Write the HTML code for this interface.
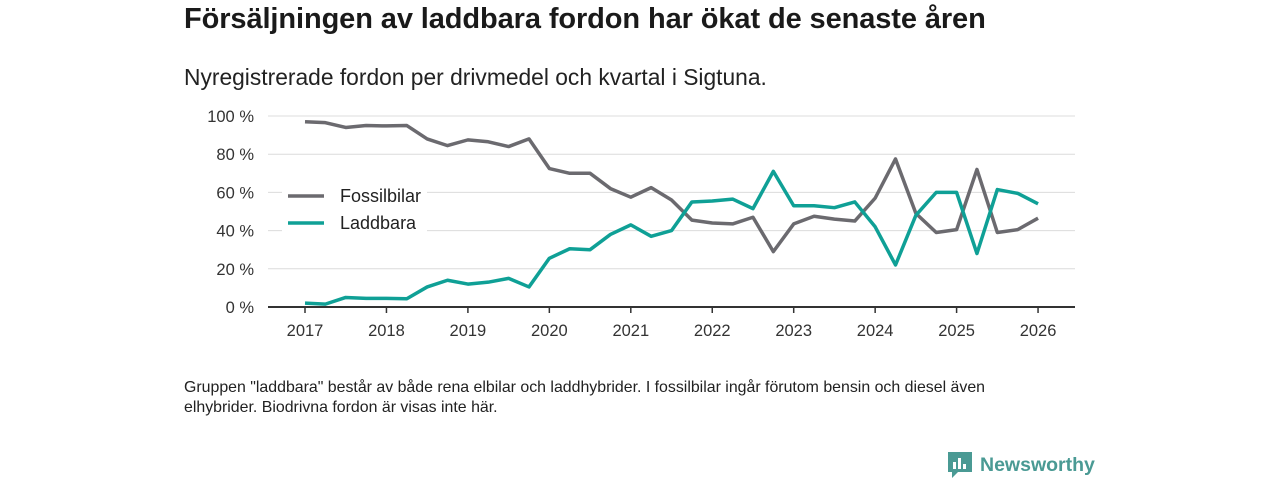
<!DOCTYPE html>
<html><head><meta charset="utf-8"><style>
body{margin:0;width:1280px;height:480px;background:#fff;font-family:"Liberation Sans","DejaVu Sans",sans-serif;color:#222;overflow:hidden;position:relative}
.t{position:absolute;left:184px;top:3px;font-size:29px;font-weight:bold;color:#1a1a1a;letter-spacing:-0.1px}
.s{position:absolute;left:184px;top:64px;font-size:22.8px;color:#222}
.f{position:absolute;left:184px;top:378px;font-size:15.9px;line-height:20px;color:#222;width:860px}
.logo{position:absolute;left:948px;top:452px;display:flex;align-items:center;gap:8px;font-size:19.5px;font-weight:bold;color:#4a9a94}
</style></head><body>
<div class="t">Försäljningen av laddbara fordon har ökat de senaste åren</div>
<div class="s">Nyregistrerade fordon per drivmedel och kvartal i Sigtuna.</div>
<svg id="c" width="1280" height="480" style="position:absolute;left:0;top:0"></svg>
<div class="f">Gruppen "laddbara" består av både rena elbilar och laddhybrider. I fossilbilar ingår förutom bensin och diesel även elhybrider. Biodrivna fordon är visas inte här.</div>
<div class="logo"><svg width="24" height="26" viewBox="0 0 24 26"><path d="M0 0h24v20H10l-6 6v-6H0z" fill="#4a9a94"/><rect x="5" y="10" width="3" height="7" fill="#fff"/><rect x="10" y="6" width="3" height="11" fill="#fff"/><rect x="15" y="12" width="3" height="5" fill="#fff"/></svg><span>Newsworthy</span></div>
<script>
const years=[2017,2018,2019,2020,2021,2022,2023,2024,2025,2026];
const yTicks=[0,20,40,60,80,100];
const fossil=[97,96.5,94,95,94.8,95,88,84.5,87.5,86.5,84,88,72.5,70,70,62,57.5,62.5,56,45.5,44,43.5,47,29,43.5,47.5,46,45,57,77.5,49,39,40.5,72,39,40.5,46.5];
const laddbara=[2,1.5,5,4.5,4.5,4.3,10.5,14,12,13,15,10.5,25.5,30.5,30,38,43,37,40,55,55.5,56.5,51.5,71,53,53,52,55,42,22,48,60,60,28,61.5,59.5,54];
const svg=document.getElementById('c');const NS='http://www.w3.org/2000/svg';
const x=t=>305+(t-2017)*81.45;
const y=v=>307-v*1.91;
function mk(tag,a){const e=document.createElementNS(NS,tag);for(const k in a)e.setAttribute(k,a[k]);svg.appendChild(e);return e;}
yTicks.forEach(v=>{
 if(v>0){const g=mk('line',{x1:268,x2:1075,y1:y(v),y2:y(v),stroke:'#dcdcdc','stroke-width':1});
 
 }
 const t=mk('text',{x:254,y:y(v)+6,'text-anchor':'end','font-size':16.5,fill:'#333','font-family':'Liberation Sans, sans-serif'});
 t.textContent=v+' %';
 
 
});
const ax=mk('line',{x1:268,x2:1075,y1:307,y2:307,stroke:'#333','stroke-width':2});


years.forEach(yr=>{
 const tk=mk('line',{x1:x(yr),x2:x(yr),y1:307,y2:313,stroke:'#333','stroke-width':1.5});
 
 
 const t=mk('text',{x:x(yr),y:336,'text-anchor':'middle','font-size':16.5,fill:'#333','font-family':'Liberation Sans, sans-serif'});
 t.textContent=yr;
 
 
});
function line(d,c,n){const p=d.map((v,i)=>x(2017+i/4)+','+y(v)).join(' ');
 const e=mk('polyline',{points:p,fill:'none',stroke:c,'stroke-width':3.5,'stroke-linejoin':'round'});
 
 }
const lb=mk('rect',{x:282,y:180,width:145,height:60,fill:'#fff'});


line(fossil,'#6b6a6f','fossilbilar-line');
line(laddbara,'#0fa096','laddbara-line');
[['Fossilbilar','#6b6a6f',196],['Laddbara','#0fa096',223]].forEach(([n,c,yy])=>{
 const l=mk('line',{x1:288,x2:324,y1:yy,y2:yy,stroke:c,'stroke-width':3.5});
 
 
 const t=mk('text',{x:340,y:yy+6,'font-size':18,fill:'#222','font-family':'Liberation Sans, sans-serif'});
 t.textContent=n;
 
 
});
</script>
</body></html>
